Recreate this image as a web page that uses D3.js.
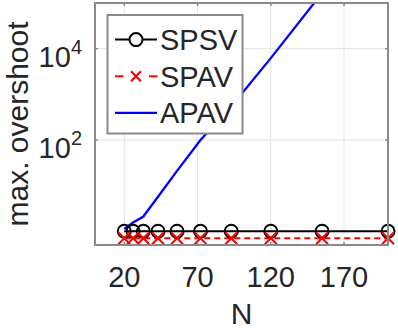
<!DOCTYPE html>
<html><head><meta charset="utf-8">
<script src="https://cdn.jsdelivr.net/npm/d3@7"></script>
<style>body{margin:0;background:#fff}svg{display:block}text{font-family:"Liberation Sans",Arial,sans-serif;fill:#262626}</style>
</head><body>
<script>
const N = [20, 26, 33, 43, 56, 72, 93, 120, 155, 200];
const SPSV = [1, 1, 1, 1, 1, 1, 1, 1, 1, 1];
const SPAV = [0.7, 0.7, 0.7, 0.7, 0.7, 0.7, 0.7, 0.7, 0.7, 0.7];
const APAV = [1.12, 1.55, 2.1, 5.7, 21, 100, 540, 6200, 1.66e5, 8e6];
const xTicks = [20, 70, 120, 170];
const yTicks = [1e2, 1e4];
const yTickExp = ["2", "4"];
const seriesNames = ["SPSV", "SPAV", "APAV"];

const W = 398, H = 331;
const L = 95, R = 388, T = 3, B = 245;
const svg = d3.select("body").append("svg").attr("width", W).attr("height", H);
const x = d3.scaleLinear().domain([0, 200]).range([L, R]);
const y = d3.scaleLog().domain([0.5, 1e5]).range([B, T]);
const axisCol = "#8a8a8a";

// grid
const g = svg.append("g");
g.selectAll(".gx").data(xTicks).join("line")
  .attr("x1", d => x(d)).attr("x2", d => x(d)).attr("y1", T).attr("y2", B)
  .attr("stroke", "#e3e3e3").attr("stroke-width", 1);
g.selectAll(".gy").data(yTicks).join("line")
  .attr("y1", d => y(d)).attr("y2", d => y(d)).attr("x1", L).attr("x2", R)
  .attr("stroke", "#e3e3e3").attr("stroke-width", 1);

// clip
svg.append("clipPath").attr("id", "clip").append("rect")
  .attr("x", L).attr("y", T).attr("width", R - L).attr("height", B - T);

const plot = svg.append("g").attr("clip-path", "url(#clip)");
const line = (vals) => d3.line().x((d, i) => x(N[i])).y(d => y(d))(vals);

plot.append("path").attr("d", line(APAV)).attr("fill", "none").attr("stroke", "#0000ff").attr("stroke-width", 2.3);
plot.append("path").attr("d", line(SPSV)).attr("fill", "none").attr("stroke", "#000").attr("stroke-width", 2);
plot.append("path").attr("d", line(SPAV)).attr("fill", "none").attr("stroke", "#ff0000").attr("stroke-width", 2).attr("stroke-dasharray", "6,4");

const mk = svg.append("g");
mk.selectAll(".c").data(SPSV).join("circle")
  .attr("cx", (d, i) => x(N[i])).attr("cy", d => y(d)).attr("r", 6.5)
  .attr("fill", "none").attr("stroke", "#000").attr("stroke-width", 2);
const cross = (cx, cy, s) => `M${cx - s},${cy - s}L${cx + s},${cy + s}M${cx - s},${cy + s}L${cx + s},${cy - s}`;
mk.selectAll(".x").data(SPAV).join("path")
  .attr("d", (d, i) => cross(x(N[i]), y(d), 6))
  .attr("stroke", "#ff0000").attr("stroke-width", 2).attr("fill", "none");

// axes box
const ax = svg.append("g");
ax.append("rect").attr("x", L).attr("y", T).attr("width", R - L).attr("height", B - T)
  .attr("fill", "none").attr("stroke", axisCol).attr("stroke-width", 2);
// ticks inward
xTicks.forEach(t => {
  ax.append("line").attr("x1", x(t)).attr("x2", x(t)).attr("y1", B).attr("y2", B - 3).attr("stroke", axisCol).attr("stroke-width", 1.5);
  ax.append("line").attr("x1", x(t)).attr("x2", x(t)).attr("y1", T).attr("y2", T + 3).attr("stroke", axisCol).attr("stroke-width", 1.5);
});
yTicks.forEach(t => {
  ax.append("line").attr("x1", L).attr("x2", L + 3).attr("y1", y(t)).attr("y2", y(t)).attr("stroke", axisCol).attr("stroke-width", 1.5);
  ax.append("line").attr("x1", R).attr("x2", R - 3).attr("y1", y(t)).attr("y2", y(t)).attr("stroke", axisCol).attr("stroke-width", 1.5);
});

// tick labels
svg.selectAll(".xl").data(xTicks).join("text")
  .attr("x", d => x(d)).attr("y", 287).attr("text-anchor", "middle")
  .attr("font-size", 29).text(d => d);
yTicks.forEach((t, i) => {
  const tx = svg.append("text").attr("x", 82).attr("y", y(t) + 18).attr("text-anchor", "end").attr("font-size", 29);
  tx.append("tspan").text("10");
  tx.append("tspan").attr("font-size", 20).attr("dy", -13).text(yTickExp[i]);
});

// axis labels
svg.append("text").attr("x", (L + R) / 2).attr("y", 324).attr("text-anchor", "middle").attr("font-size", 30).text("N");
svg.append("text").attr("transform", `translate(28,124) rotate(-90)`).attr("text-anchor", "middle").attr("font-size", 30).text("max. overshoot");

// legend
const lg = svg.append("g");
lg.append("rect").attr("x", 107.5).attr("y", 15).attr("width", 135).attr("height", 118.5)
  .attr("fill", "#fff").attr("stroke", axisCol).attr("stroke-width", 2);
const rowsBase = [50, 86.7, 123.3];
seriesNames.forEach((name, i) => {
  const cy = rowsBase[i] - 10.4;
  if (i === 0) {
    lg.append("line").attr("x1", 115).attr("x2", 157).attr("y1", cy).attr("y2", cy).attr("stroke-width", 2).attr("stroke", "#000");
    lg.append("circle").attr("cx", 136).attr("cy", cy).attr("r", 6.5).attr("fill", "#fff").attr("stroke", "#000").attr("stroke-width", 2);
  } else if (i === 1) {
    lg.append("line").attr("x1", 115).attr("x2", 123.5).attr("y1", cy).attr("y2", cy).attr("stroke-width", 2).attr("stroke", "#ff0000");
    lg.append("line").attr("x1", 149).attr("x2", 157.5).attr("y1", cy).attr("y2", cy).attr("stroke-width", 2).attr("stroke", "#ff0000");
    lg.append("path").attr("d", cross(136, cy, 5)).attr("stroke", "#ff0000").attr("stroke-width", 2.2);
  } else {
    lg.append("line").attr("x1", 115).attr("x2", 157).attr("y1", cy).attr("y2", cy).attr("stroke", "#0000ff").attr("stroke-width", 2.3);
  }
  lg.append("text").attr("x", 160).attr("y", rowsBase[i]).attr("font-size", 29).text(name);
});
</script>
</body></html>
